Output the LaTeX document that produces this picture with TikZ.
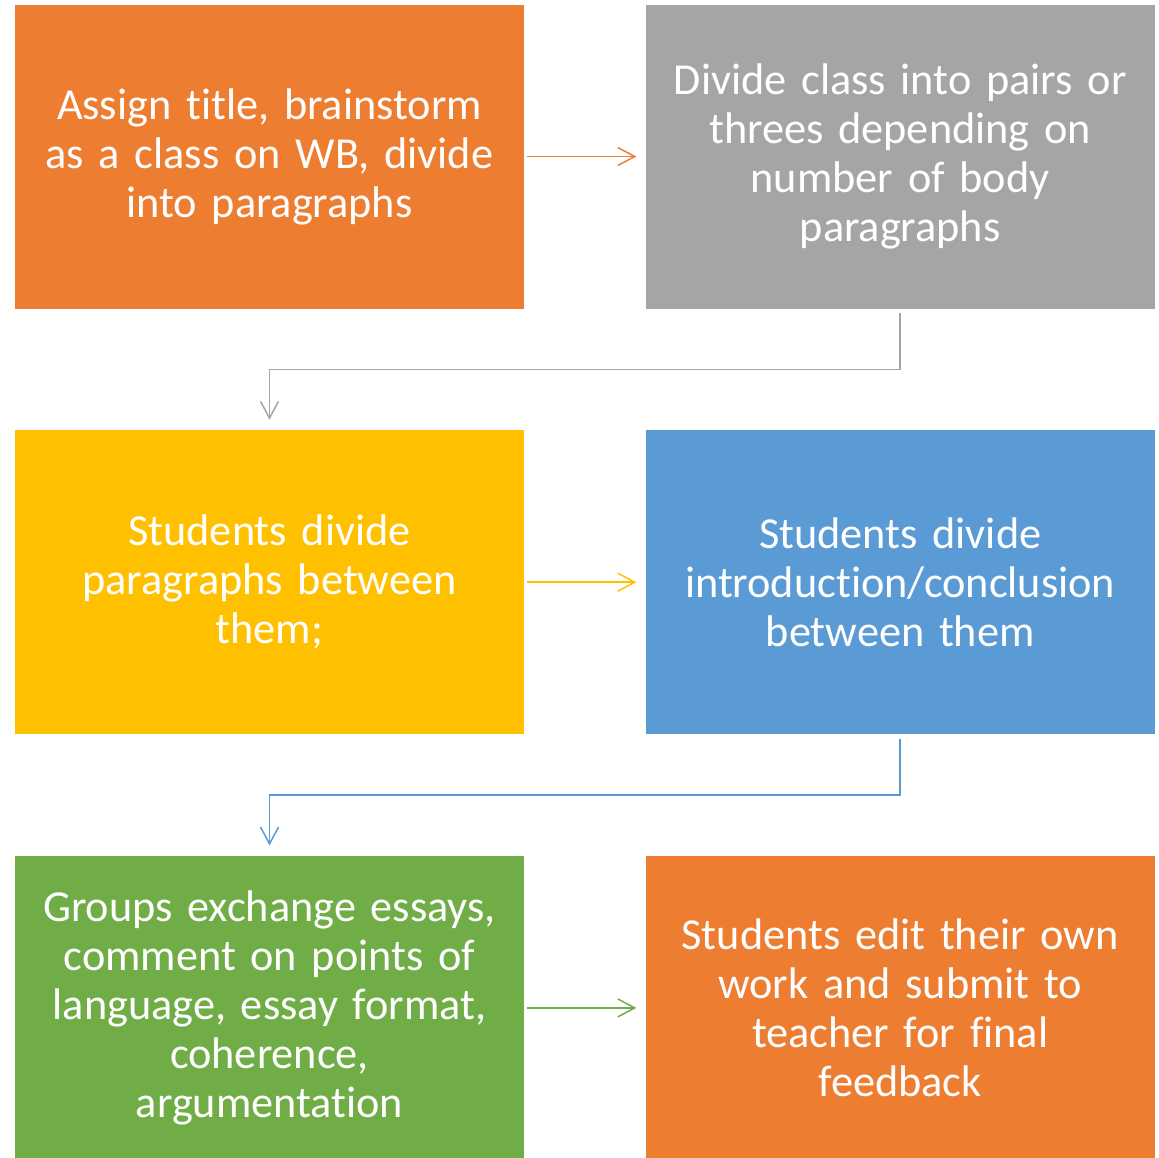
\documentclass[tikz,border=0pt]{standalone}
\usepackage{fontspec}
\setmainfont{Carlito}[Ligatures=NoCommon]
\usetikzlibrary{arrows.meta,positioning,calc}
\definecolor{accorange}{HTML}{ED7D31}
\definecolor{accgray}{HTML}{A5A5A5}
\definecolor{accyellow}{HTML}{FFC000}
\definecolor{accblue}{HTML}{5B9BD5}
\definecolor{accgreen}{HTML}{70AD47}
\tikzset{
    stepbox/.style={
        rectangle,
        fill=#1,
        text=white,
        minimum width=10.18cm,
        minimum height=6.08cm,
        text width=9.8cm,
        align=center,
        font=\fontsize{25.2}{27.9}\selectfont,
    },
    flow/.style={
        draw=#1,
        line width=0.85pt,
        -{Straight Barb[length=0.34cm,width=0.36cm,line width=0.85pt]},
    },
}

\begin{document}
\begin{tikzpicture}[node distance=2.42cm and 2.42cm]
    \useasboundingbox (-5.39,3.13) rectangle (17.79,-20.01);
    \node [stepbox=accorange] (assign) at (0,0) {Assign title, brainstorm\\as a class on WB, divide\\into paragraphs};
    \node [stepbox=accgray] (pairs) [right=of assign] {Divide class into pairs or\\threes depending on\\number of body\\paragraphs};
    \node [stepbox=accyellow] (body) [below=of assign] {Students divide\\paragraphs between\\them;};
    \node [stepbox=accblue] (intro) [right=of body] {Students divide\\introduction/conclusion\\between them};
    \node [stepbox=accgreen] (swap) [below=of body] {Groups exchange essays,\\comment on points of\\language, essay format,\\coherence,\\argumentation};
    \node [stepbox=accorange] (edit) [right=of swap] {Students edit their own\\work and submit to\\teacher for final\\feedback};
    % elbow turns halfway between the rows
    \coordinate (turn1) at ($(pairs.south)!0.5!(body.north)$);
    \coordinate (turn2) at ($(intro.south)!0.5!(swap.north)$);
    \draw [flow=accorange, shorten <=0.06cm, shorten >=0.18cm] (assign) -- (pairs);
    \draw [flow=accgray, shorten <=0.08cm, shorten >=0.2cm] (pairs.south) |- (turn1) -| (body.north);
    \draw [flow=accyellow, shorten <=0.06cm, shorten >=0.18cm] (body) -- (intro);
    \draw [flow=accblue, shorten <=0.08cm, shorten >=0.2cm] (intro.south) |- (turn2) -| (swap.north);
    \draw [flow=accgreen, shorten <=0.06cm, shorten >=0.18cm] (swap) -- (edit);
\end{tikzpicture}
\end{document}
